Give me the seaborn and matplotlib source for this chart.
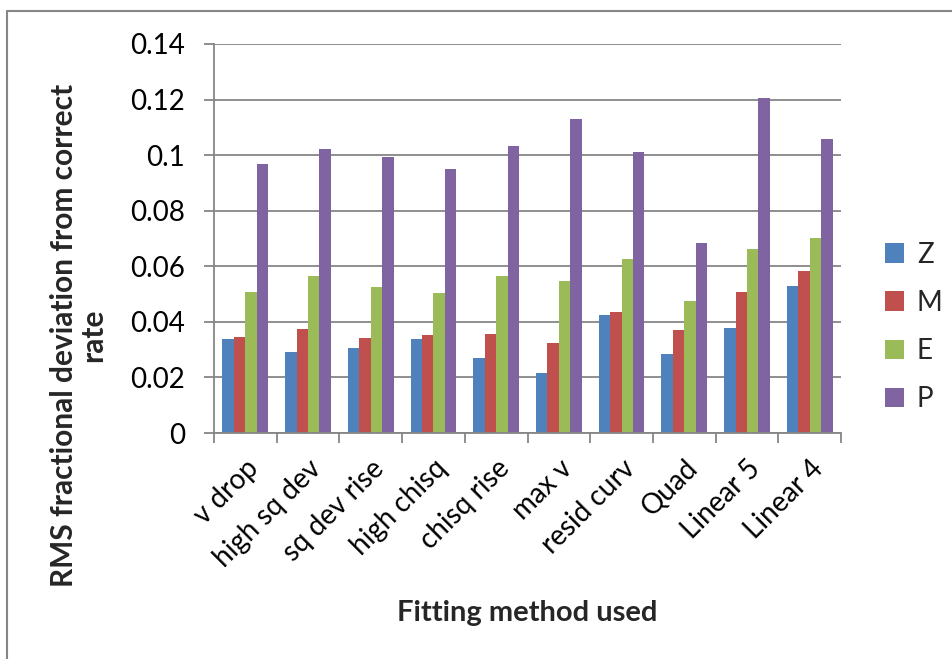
import matplotlib
matplotlib.use("Agg")
import matplotlib.pyplot as plt
from matplotlib.lines import Line2D
import seaborn as sns
import pandas as pd

# Fitting methods (categories) and RMS fractional deviation per series
methods = ["v drop", "high sq dev", "sq dev rise", "high chisq", "chisq rise",
           "max v", "resid curv", "Quad", "Linear 5", "Linear 4"]
series = ["Z", "M", "E", "P"]
z_vals = [0.0338, 0.0292, 0.0307, 0.0337, 0.0269, 0.0217, 0.0425, 0.0283, 0.0378, 0.0528]
m_vals = [0.0345, 0.0374, 0.0342, 0.0352, 0.0356, 0.0325, 0.0435, 0.0371, 0.0509, 0.0582]
e_vals = [0.0506, 0.0566, 0.0524, 0.0504, 0.0566, 0.0546, 0.0625, 0.0475, 0.0663, 0.0702]
p_vals = [0.0967, 0.1022, 0.0993, 0.0949, 0.1033, 0.1129, 0.1012, 0.0683, 0.1205, 0.1059]
y_ticks = [0, 0.02, 0.04, 0.06, 0.08, 0.1, 0.12, 0.14]
y_tick_labels = ["0", "0.02", "0.04", "0.06", "0.08", "0.1", "0.12", "0.14"]

colors = ["#4F81BD", "#C0504D", "#9BBB59", "#8064A2"]
grid_color = "#868686"

df = pd.DataFrame({
    "method": methods * 4,
    "series": [s for s in series for _ in methods],
    "value": z_vals + m_vals + e_vals + p_vals,
})

sns.set_theme(style="white")
plt.rcParams["font.family"] = ["Lato", "DejaVu Sans"]

W, H = 953, 659
fig = plt.figure(figsize=(W / 100, H / 100), dpi=100)
fig.patch.set_facecolor("white")

# plot area in pixel coordinates
left, right, top, bottom = 214, 841, 44, 433
ax = fig.add_axes([left / W, 1 - bottom / H, (right - left) / W, (bottom - top) / H])

sns.barplot(data=df, x="method", y="value", hue="series", order=methods,
            hue_order=series, palette=colors, width=0.73, gap=0,
            saturation=1, edgecolor="none", linewidth=0, ax=ax)

ax.set_ylim(0, 0.14)
ax.set_xlim(-0.5, len(methods) - 0.5)
ax.set_yticks(y_ticks)
ax.set_yticklabels(y_tick_labels, fontsize=20, color="black")
ax.yaxis.grid(True, color=grid_color, linewidth=1.3)
ax.set_axisbelow(True)

# category labels at centres, tick marks at category boundaries
ax.set_xticks(range(len(methods)))
ax.set_xticklabels(methods, rotation=45, ha="right", rotation_mode="anchor",
                   fontsize=20, color="black")
ax.set_xticks([i - 0.5 for i in range(len(methods) + 1)], minor=True)
ax.tick_params(axis="x", which="major", length=0, pad=16)
ax.tick_params(axis="x", which="minor", length=7, width=1.3, color=grid_color,
               direction="out", bottom=True)
ax.tick_params(axis="y", which="major", length=7, width=1.3, color=grid_color,
               direction="out", left=True, pad=14)

for side in ["top", "right"]:
    ax.spines[side].set_visible(False)
for side in ["left", "bottom"]:
    ax.spines[side].set_color(grid_color)
    ax.spines[side].set_linewidth(1.3)

ax.set_xlabel("")
ax.set_ylabel("")

fig.text(527 / W, 1 - 613 / H, "Fitting method used", ha="center", va="center",
         fontsize=21, fontweight="bold")
fig.text(79 / W, 1 - 335 / H, "RMS fractional deviation from correct\nrate",
         ha="center", va="center", rotation=90, fontsize=21.5, fontweight="bold",
         linespacing=1.05)

sns.move_legend(ax, "center left", bbox_to_anchor=(885 / W, 1 - 327 / H),
                bbox_transform=fig.transFigure, frameon=False, title=None,
                fontsize=20, handlelength=0.7, handleheight=0.7,
                handletextpad=0.45, labelspacing=0.8,
                borderpad=0, borderaxespad=0)

# outer chart border (left and top edges)
fig.add_artist(Line2D([7 / W, 7 / W], [0, 1 - 11 / H], transform=fig.transFigure,
                      color=grid_color, linewidth=1.5))
fig.add_artist(Line2D([7 / W, 1], [1 - 11 / H, 1 - 11 / H], transform=fig.transFigure,
                      color=grid_color, linewidth=1.5))

fig.savefig("out.png", dpi=100, facecolor="white")
